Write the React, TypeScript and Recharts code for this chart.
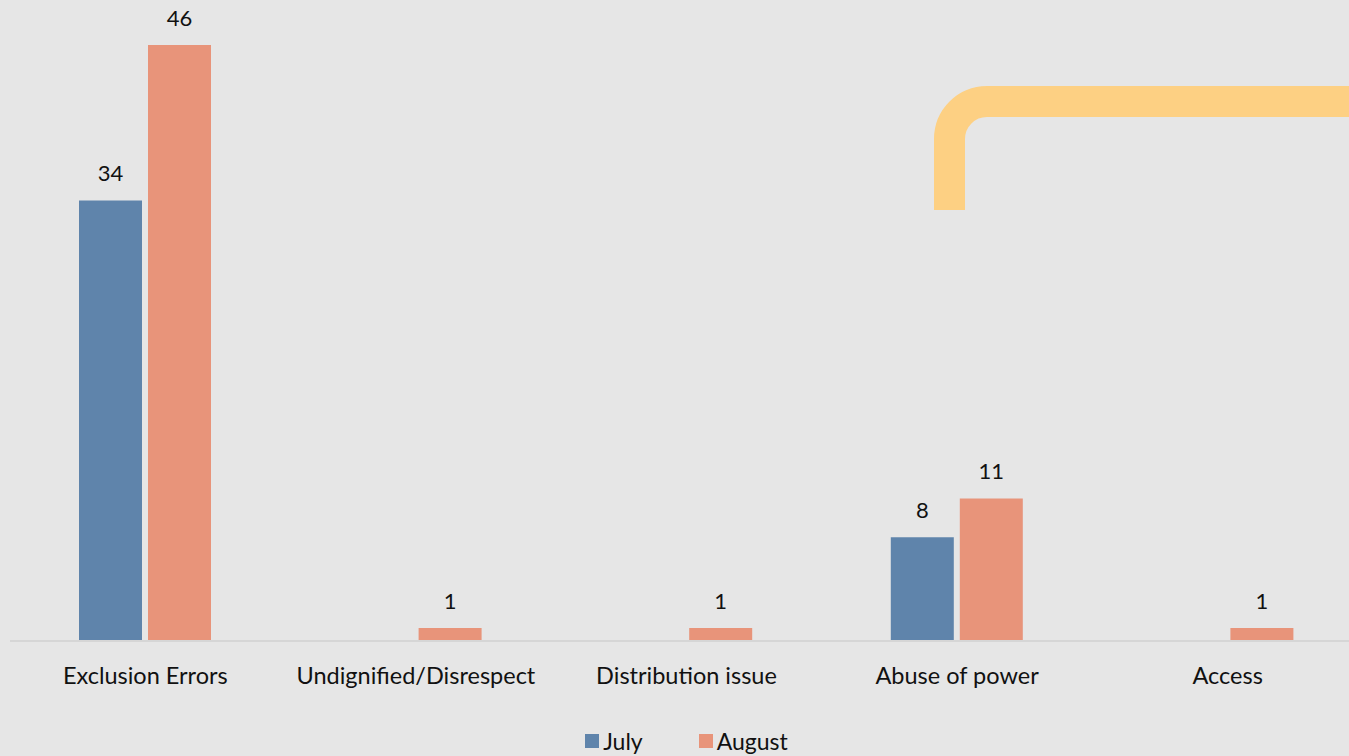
import React from "react";
import { BarChart, Bar, XAxis, YAxis, LabelList, Legend } from "recharts";

const categories = ["Exclusion Errors", "Undignified/Disrespect", "Distribution issue", "Abuse of power", "Access"];
const july: (number | null)[] = [34, null, null, 8, null];
const august: (number | null)[] = [46, 1, 1, 11, 1];

const data = categories.map((name, i) => ({ name, july: july[i], august: august[i] }));

const FONT = "Lato, 'Open Sans', sans-serif";
const BLUE = "#5f84ab";
const SALMON = "#e8947a";

const LegendContent = () => (
  <div style={{ display: "flex", justifyContent: "center", fontFamily: FONT, fontSize: 23, color: "#111", height: 26 }}>
    {[
      { label: "July", color: BLUE },
      { label: "August", color: SALMON },
    ].map((d, i) => (
      <div key={d.label} style={{ display: "flex", alignItems: "center", marginLeft: i ? 56 : 0 }}>
        <span style={{ width: 14, height: 14, background: d.color, display: "inline-block", marginRight: 4 }} />
        <span>{d.label}</span>
      </div>
    ))}
  </div>
);

export default function App() {
  return (
    <div
      style={{
        position: "fixed",
        left: 0,
        top: 0,
        width: 1349,
        height: 756,
        overflow: "hidden",
        background: "#e6e6e6",
      }}
    >
      <BarChart
        width={1363}
        height={756}
        data={data}
        margin={{ top: 45, right: 0, left: 10, bottom: 0 }}
        barSize={63}
        barGap={6}
      >
        <XAxis
          dataKey="name"
          axisLine={{ stroke: "#d6d6d6", strokeWidth: 2 }}
          tickLine={false}
          tickSize={0}
          tickMargin={26}
          height={89}
          interval={0}
          tick={{ fill: "#111", fontSize: 23.5, fontFamily: FONT }}
        />
        <YAxis hide domain={[0, 46]} />
        <Legend verticalAlign="bottom" content={LegendContent} wrapperStyle={{ bottom: 2 }} />
        <Bar dataKey="july" fill={BLUE} isAnimationActive={false}>
          <LabelList dataKey="july" position="top" offset={19} fill="#111" fontSize={22} fontFamily={FONT} />
        </Bar>
        <Bar dataKey="august" fill={SALMON} isAnimationActive={false}>
          <LabelList dataKey="august" position="top" offset={19} fill="#111" fontSize={22} fontFamily={FONT} />
        </Bar>
      </BarChart>
      {/* decorative bracket, top right */}
      <svg width={1349} height={756} style={{ position: "absolute", left: 0, top: 0, pointerEvents: "none" }}>
        <path
          d="M 949.5 210 L 949.5 139 A 37.5 37.5 0 0 1 987 101.5 L 1360 101.5"
          fill="none"
          stroke="#fdd083"
          strokeWidth={31}
        />
      </svg>
    </div>
  );
}
